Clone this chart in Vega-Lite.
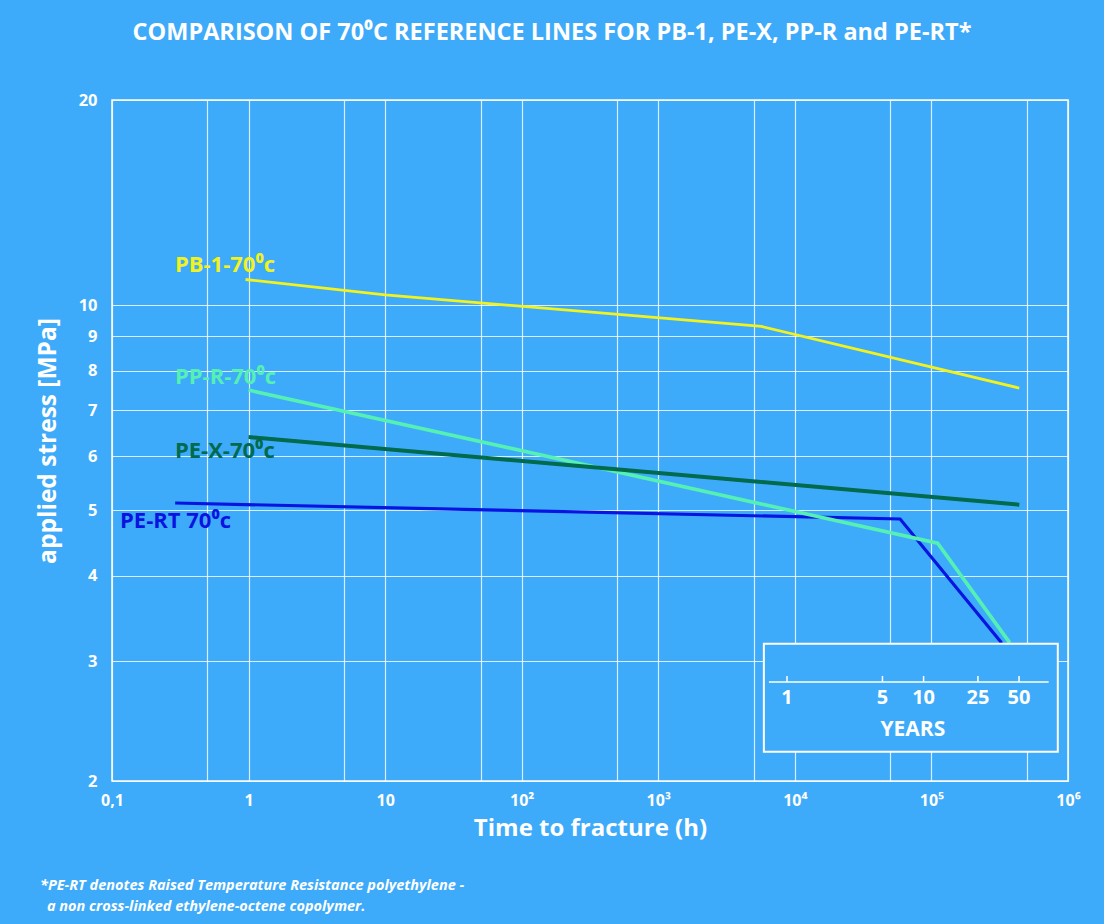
{
  "$schema": "https://vega.github.io/schema/vega-lite/v6.json",
  "autosize": {"type": "none"},
  "width": 956,
  "height": 681,
  "padding": {"left": 112, "top": 100, "right": 36, "bottom": 143},
  "background": "#3eaafa",
  "config": {
    "view": {"stroke": "#ffffff", "strokeWidth": 1.5, "fill": "#3eaafa"},
    "font": "Open Sans"
  },
  "title": {
    "text": "COMPARISON OF 70⁰C REFERENCE LINES FOR PB-1, PE-X, PP-R and PE-RT*",
    "color": "#ffffff",
    "font": "Open Sans",
    "fontSize": 23.5,
    "fontWeight": "bold",
    "anchor": "middle",
    "dx": -38,
    "offset": 48
  },
  "layer": [
    {
      "data": {"values": [
        {"series": "PB-1", "t": 0.95, "s": 10.9},
        {"series": "PB-1", "t": 10, "s": 10.35},
        {"series": "PB-1", "t": 5700, "s": 9.3},
        {"series": "PB-1", "t": 440000, "s": 7.55},
        {"series": "PE-RT", "t": 0.29, "s": 5.12},
        {"series": "PE-RT", "t": 59000, "s": 4.85},
        {"series": "PE-RT", "t": 327000, "s": 3.19},
        {"series": "PP-R", "t": 1, "s": 7.5},
        {"series": "PP-R", "t": 111000, "s": 4.47},
        {"series": "PP-R", "t": 375000, "s": 3.19},
        {"series": "PE-X", "t": 1, "s": 6.4},
        {"series": "PE-X", "t": 440000, "s": 5.09}
      ]},
      "mark": {"type": "line", "strokeCap": "butt"},
      "encoding": {
        "x": {
          "field": "t", "type": "quantitative",
          "scale": {"type": "log", "domain": [0.1, 1000000], "nice": false},
          "axis": {
            "values": [0.1, 0.5, 1, 5, 10, 50, 100, 500, 1000, 5000, 10000, 50000, 100000, 500000, 1000000],
            "labelExpr": "datum.value == 0.1 ? '0,1' : datum.value == 1 ? '1' : datum.value == 10 ? '10' : datum.value == 100 ? '10²' : datum.value == 1000 ? '10³' : datum.value == 10000 ? '10⁴' : datum.value == 100000 ? '10⁵' : datum.value == 1000000 ? '10⁶' : ''",
            "title": "Time to fracture (h)",
            "titleColor": "#ffffff", "titleFont": "Open Sans", "titleFontSize": 24, "titleFontWeight": "bold", "titlePadding": 8,
            "labelColor": "#ffffff", "labelFont": "Open Sans", "labelFontSize": 16, "labelFontWeight": "bold", "labelPadding": 11,
            "labelFlush": false, "labelOverlap": false,
            "ticks": false, "domain": false,
            "grid": true, "gridColor": "#ffffff", "gridOpacity": 0.8, "gridWidth": 1.2
          }
        },
        "y": {
          "field": "s", "type": "quantitative",
          "scale": {"type": "log", "domain": [2, 20], "nice": false},
          "axis": {
            "values": [2, 3, 4, 5, 6, 7, 8, 9, 10, 20],
            "title": "applied stress [MPa]",
            "titleColor": "#ffffff", "titleFont": "Open Sans", "titleFontSize": 24.5, "titleFontWeight": "bold", "titlePadding": 18,
            "labelColor": "#ffffff", "labelFont": "Open Sans", "labelFontSize": 16.5, "labelFontWeight": "bold", "labelPadding": 15,
            "labelFlush": false, "labelOverlap": false,
            "ticks": false, "domain": false,
            "grid": true, "gridColor": "#ffffff", "gridOpacity": 0.8, "gridWidth": 1.2
          }
        },
        "color": {
          "field": "series", "type": "nominal",
          "scale": {"domain": ["PB-1", "PE-RT", "PP-R", "PE-X"], "range": ["#f2f21e", "#0a14e0", "#55f0b4", "#006a4c"]},
          "legend": null
        },
        "strokeWidth": {
          "field": "series", "type": "nominal",
          "scale": {"domain": ["PB-1", "PE-RT", "PP-R", "PE-X"], "range": [2.8, 4, 2.6, 4]},
          "legend": null
        }
      }
    },
    {
      "data": {"values": [
        {"series": "PB-1", "t": 0.289, "s": 11.45, "label": "PB-1-70⁰c"},
        {"series": "PP-R", "t": 0.289, "s": 7.84, "label": "PP-R-70⁰c"},
        {"series": "PE-X", "t": 0.289, "s": 6.11, "label": "PE-X-70⁰c"},
        {"series": "PE-RT", "t": 0.1145, "s": 4.82, "label": "PE-RT 70⁰c"}
      ]},
      "mark": {"type": "text", "align": "left", "baseline": "middle", "font": "Open Sans", "fontSize": 22, "fontWeight": "bold"},
      "encoding": {
        "x": {"field": "t", "type": "quantitative"},
        "y": {"field": "s", "type": "quantitative"},
        "text": {"field": "label"},
        "color": {
          "field": "series", "type": "nominal",
          "scale": {"domain": ["PB-1", "PE-RT", "PP-R", "PE-X"], "range": ["#f2f21e", "#0a14e0", "#55f0b4", "#006a4c"]},
          "legend": null
        }
      }
    },
    {
      "data": {"values": [{"t1": 5930, "t2": 842000, "s1": 3.18, "s2": 2.207}]},
      "mark": {"type": "rect", "fill": "#3eaafa", "stroke": "#ffffff", "strokeWidth": 2},
      "encoding": {
        "x": {"field": "t1", "type": "quantitative"},
        "x2": {"field": "t2"},
        "y": {"field": "s1", "type": "quantitative"},
        "y2": {"field": "s2"}
      }
    },
    {
      "data": {"values": [{"t1": 6460, "t2": 722000, "s": 2.795}]},
      "mark": {"type": "rule", "color": "#ffffff", "strokeWidth": 1.5},
      "encoding": {
        "x": {"field": "t1", "type": "quantitative"},
        "x2": {"field": "t2"},
        "y": {"field": "s", "type": "quantitative"}
      }
    },
    {
      "data": {"values": [
        {"hours": 8760, "years": "1", "s1": 2.795, "s2": 2.853, "sl": 2.648},
        {"hours": 43800, "years": "5", "s1": 2.795, "s2": 2.853, "sl": 2.648},
        {"hours": 87600, "years": "10", "s1": 2.795, "s2": 2.853, "sl": 2.648},
        {"hours": 219000, "years": "25", "s1": 2.795, "s2": 2.853, "sl": 2.648},
        {"hours": 438000, "years": "50", "s1": 2.795, "s2": 2.853, "sl": 2.648}
      ]},
      "layer": [
        {
          "mark": {"type": "rule", "color": "#ffffff", "strokeWidth": 1.5},
          "encoding": {
            "x": {"field": "hours", "type": "quantitative"},
            "y": {"field": "s1", "type": "quantitative"},
            "y2": {"field": "s2"}
          }
        },
        {
          "mark": {"type": "text", "align": "center", "baseline": "middle", "color": "#ffffff", "font": "Open Sans", "fontSize": 20, "fontWeight": "bold"},
          "encoding": {
            "x": {"field": "hours", "type": "quantitative"},
            "y": {"field": "sl", "type": "quantitative"},
            "text": {"field": "years"}
          }
        }
      ]
    },
    {
      "data": {"values": [{"t": 73100, "s": 2.377, "label": "YEARS"}]},
      "mark": {"type": "text", "align": "center", "baseline": "middle", "color": "#ffffff", "font": "Open Sans", "fontSize": 21, "fontWeight": "bold"},
      "encoding": {
        "x": {"field": "t", "type": "quantitative"},
        "y": {"field": "s", "type": "quantitative"},
        "text": {"field": "label"}
      }
    },
    {
      "data": {"values": [
        {"t": 0.0297, "s": 1.40, "note": "*PE-RT denotes Raised Temperature Resistance polyethylene -"},
        {"t": 0.0334, "s": 1.306, "note": "a non cross-linked ethylene-octene copolymer."}
      ]},
      "mark": {"type": "text", "align": "left", "baseline": "middle", "color": "#ffffff", "font": "Open Sans", "fontSize": 14.5, "fontWeight": "bold", "fontStyle": "italic", "clip": false},
      "encoding": {
        "x": {"field": "t", "type": "quantitative"},
        "y": {"field": "s", "type": "quantitative"},
        "text": {"field": "note"}
      }
    }
  ]
}
